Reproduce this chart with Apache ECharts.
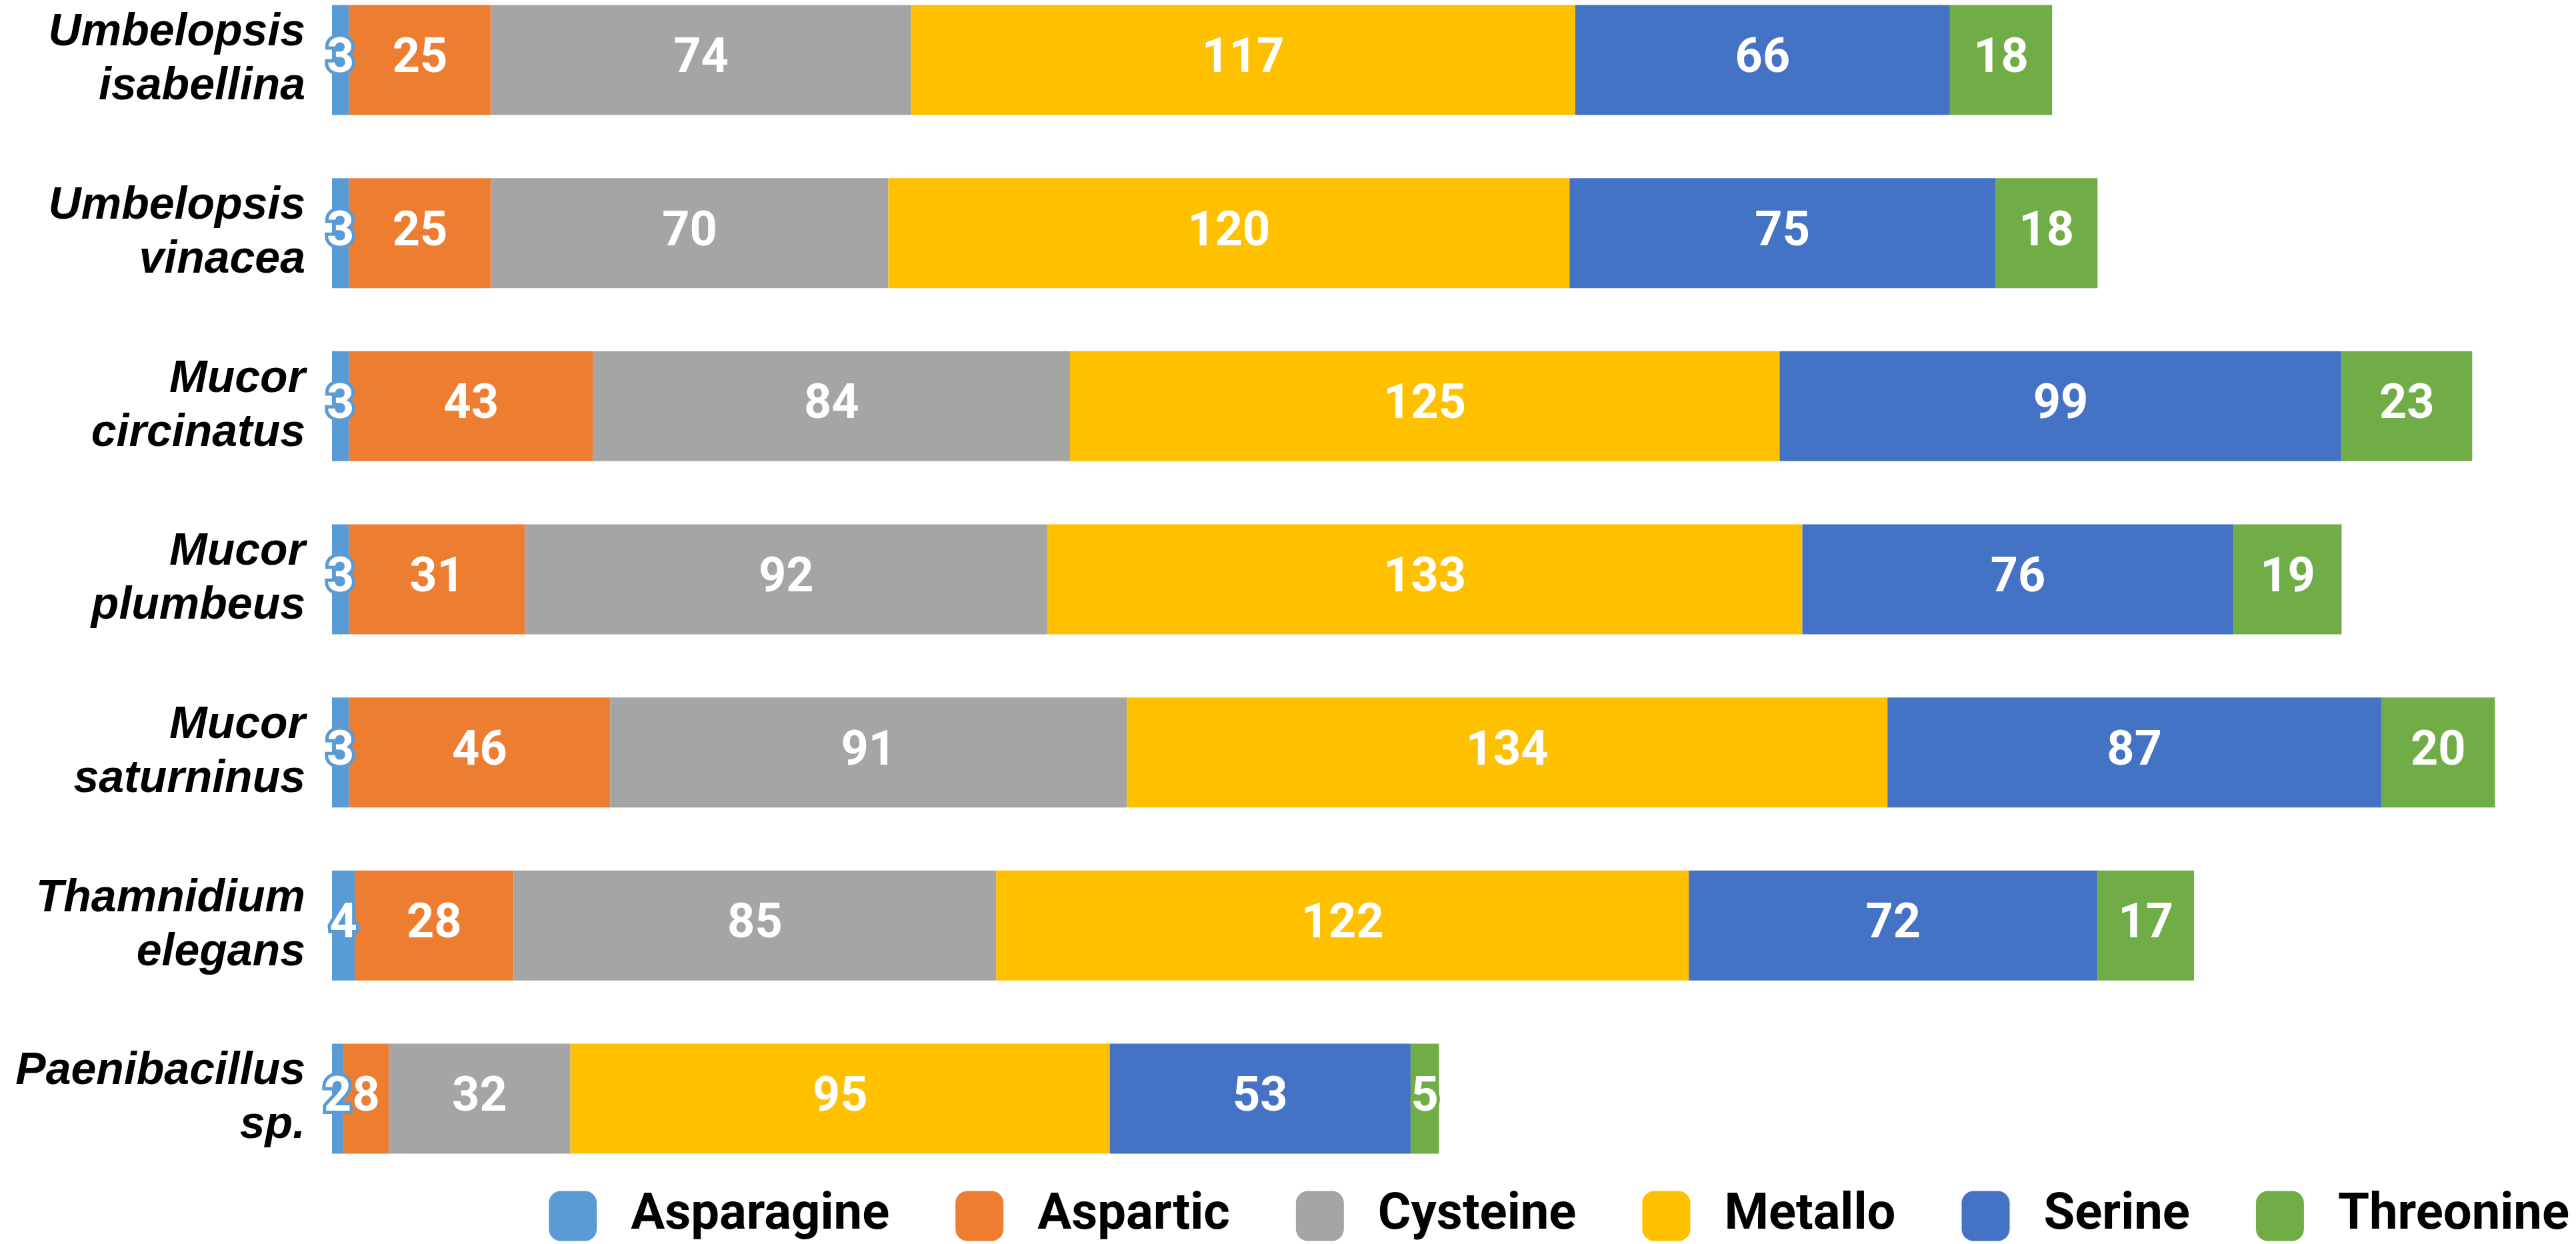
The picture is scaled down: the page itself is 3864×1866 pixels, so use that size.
<!DOCTYPE html>
<html>
<head>
<meta charset="utf-8">
<title>Peptidase families</title>
<script src="https://cdn.jsdelivr.net/npm/echarts@6/dist/echarts.min.js"></script>
<style>
    html, body { margin: 0; padding: 0; background: #fff; }
    #chart { width: 3864px; height: 1866px; }
</style>
</head>
<body>
<div id="chart"></div>
<script>
const categories = [
    'Umbelopsis\nisabellina',
    'Umbelopsis\nvinacea',
    'Mucor\ncircinatus',
    'Mucor\nplumbeus',
    'Mucor\nsaturninus',
    'Thamnidium\nelegans',
    'Paenibacillus\nsp.'
];
const seriesNames = ['Asparagine', 'Aspartic', 'Cysteine', 'Metallo', 'Serine', 'Threonine'];
const colors = ['#5B9BD5', '#ED7D31', '#A5A5A5', '#FFC000', '#4472C4', '#70AD47'];

const asparagine = [3, 3, 3, 3, 3, 4, 2];
const aspartic = [25, 25, 43, 31, 46, 28, 8];
const cysteine = [74, 70, 84, 92, 91, 85, 32];
const metallo = [117, 120, 125, 133, 134, 122, 95];
const serine = [66, 75, 99, 76, 87, 72, 53];
const threonine = [18, 18, 23, 19, 20, 17, 5];

const values = [asparagine, aspartic, cysteine, metallo, serine, threonine];

let chart = echarts.init(document.getElementById('chart'));

let series = seriesNames.map((name, i) => ({
    name: name,
    type: 'bar',
    stack: 'total',
    barWidth: 165,
    data: values[i],
    itemStyle: { color: colors[i] },
    label: {
        show: true,
        position: 'inside',
        color: '#fff',
        fontFamily: 'Roboto',
        fontWeight: 'bold',
        fontSize: 72,
        textBorderColor: colors[i],
        textBorderWidth: 10
    }
}));

chart.setOption({
    animation: false,
    backgroundColor: '#fff',
    // rows sit on the category points (boundaryGap false), first and last at the grid edges
    grid: { left: 498, right: 45, top: 90, bottom: 218 },
    xAxis: {
        type: 'value',
        min: 0,
        max: 390,
        show: false
    },
    yAxis: {
        type: 'category',
        data: categories,
        inverse: true,
        boundaryGap: false,
        axisLine: { show: false },
        axisTick: { show: false },
        axisLabel: {
            margin: 40,
            color: '#000',
            fontFamily: 'Liberation Sans',
            fontStyle: 'italic',
            fontWeight: 'bold',
            fontSize: 68,
            lineHeight: 81,
            align: 'right'
        }
    },
    legend: {
        right: 5,
        top: 1781,
        itemWidth: 72,
        itemHeight: 75,
        itemGap: 99,
        icon: 'roundRect',
        textStyle: {
            color: '#000',
            fontFamily: 'Roboto',
            fontWeight: 'bold',
            fontSize: 76,
            padding: [0, 0, 0, 46]
        },
        data: seriesNames
    },
    series: series
});
</script>
</body>
</html>
